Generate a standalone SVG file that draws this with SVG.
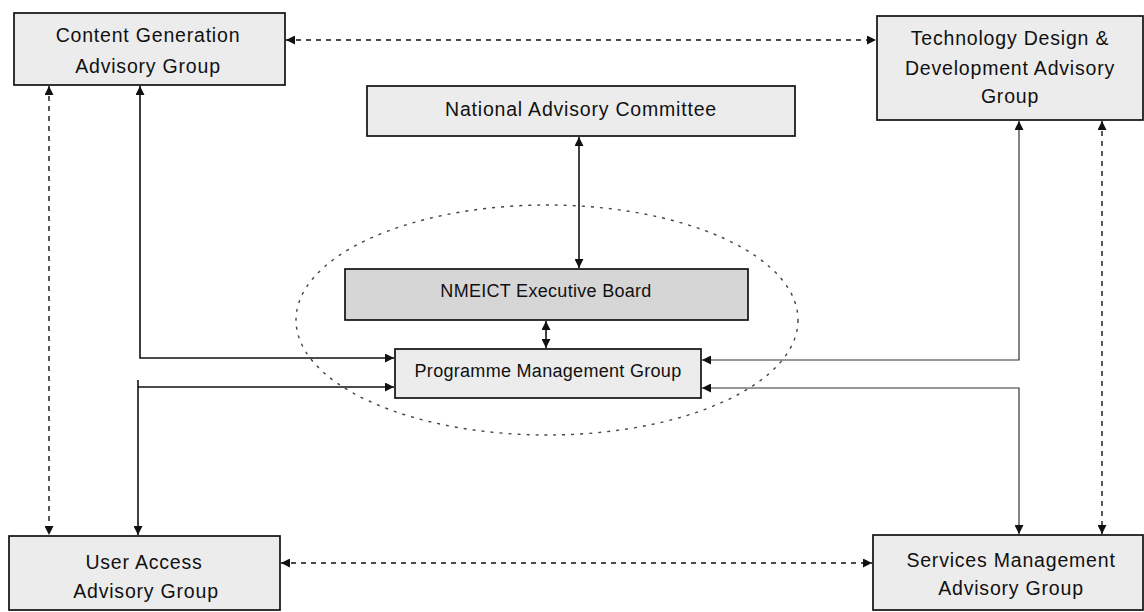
<svg xmlns="http://www.w3.org/2000/svg" width="1144" height="612" viewBox="0 0 1144 612">
  <style>
    .box { fill: #ececec; stroke: #111; stroke-width: 1.7; }
    .board { fill: #d6d6d6; stroke: #111; stroke-width: 1.7; }
    .lbl { font-family: "Liberation Sans", Arial, sans-serif; font-size: 19.5px; letter-spacing: 0.8px; fill: #111; text-anchor: middle; }
    .lbl.core { font-size: 18px; letter-spacing: 0.3px; }
    .solid { fill: none; stroke: #111; stroke-width: 1.6; }
    .thin { fill: none; stroke: #333; stroke-width: 1.2; }
    .dash { fill: none; stroke: #111; stroke-width: 1.4; stroke-dasharray: 5 5; }
    .ring { fill: none; stroke: #444; stroke-width: 1.4; stroke-dasharray: 3 6; }
  </style>
  <defs>
    <marker id="head" viewBox="0 0 10 10" refX="10" refY="5" markerWidth="10" markerHeight="9" markerUnits="userSpaceOnUse" orient="auto-start-reverse">
      <path d="M0,0 L10,5 L0,10 Z" fill="#111"/>
    </marker>
  </defs>

  <rect width="1144" height="612" fill="#ffffff"/>

  <!-- dashed boundary around the executive core -->
  <ellipse id="core-boundary" cx="547" cy="320" rx="251" ry="115" class="ring"/>

  <g id="connectors">
    <!-- advisory group peer links -->
    <line class="dash" x1="286" y1="40" x2="876" y2="40" marker-start="url(#head)" marker-end="url(#head)"/>
    <line class="dash" x1="281" y1="563" x2="872" y2="563" marker-start="url(#head)" marker-end="url(#head)"/>
    <line class="dash" x1="49" y1="86" x2="49" y2="535" marker-start="url(#head)" marker-end="url(#head)"/>
    <line class="dash" x1="1102" y1="121" x2="1102" y2="534" marker-start="url(#head)" marker-end="url(#head)"/>
    <!-- committee to board -->
    <line class="solid" x1="579" y1="137" x2="579" y2="268" marker-start="url(#head)" marker-end="url(#head)"/>
    <!-- board to programme management -->
    <line class="solid" x1="546" y1="321" x2="546" y2="348" marker-start="url(#head)" marker-end="url(#head)"/>
    <!-- content generation to programme management -->
    <path class="solid" d="M140,86 V358 H394" marker-start="url(#head)" marker-end="url(#head)"/>
    <!-- user access to programme management -->
    <line class="solid" x1="138" y1="380" x2="138" y2="535" marker-end="url(#head)"/>
    <line class="solid" x1="138" y1="387" x2="394" y2="387" marker-end="url(#head)"/>
    <!-- technology design to programme management -->
    <path class="thin" d="M1019,121 V360 H702" marker-start="url(#head)" marker-end="url(#head)"/>
    <!-- services management to programme management -->
    <path class="thin" d="M1019,534 V388 H702" marker-start="url(#head)" marker-end="url(#head)"/>
  </g>

  <g id="content-generation">
    <rect class="box" x="14" y="13" width="271" height="72"/>
    <text class="lbl" x="148" y="42">Content Generation</text>
    <text class="lbl" x="148" y="73">Advisory Group</text>
  </g>

  <g id="technology-design">
    <rect class="box" x="877" y="16" width="266" height="104"/>
    <text class="lbl" x="1010" y="45">Technology Design &amp;</text>
    <text class="lbl" x="1010" y="75">Development Advisory</text>
    <text class="lbl" x="1010" y="103">Group</text>
  </g>

  <g id="national-advisory">
    <rect class="box" x="367" y="86" width="428" height="50"/>
    <text class="lbl" x="581" y="116">National Advisory Committee</text>
  </g>

  <g id="executive-board">
    <rect class="board" x="345" y="269" width="403" height="51"/>
    <text class="lbl core" x="546" y="297">NMEICT Executive Board</text>
  </g>

  <g id="programme-management">
    <rect class="box" x="395" y="349" width="306" height="49"/>
    <text class="lbl core" x="548" y="377">Programme Management Group</text>
  </g>

  <g id="user-access">
    <rect class="box" x="9" y="536" width="271" height="74"/>
    <text class="lbl" x="144" y="569">User Access</text>
    <text class="lbl" x="146" y="598">Advisory Group</text>
  </g>

  <g id="services-management">
    <rect class="box" x="873" y="535" width="270" height="75"/>
    <text class="lbl" x="1011" y="567">Services Management</text>
    <text class="lbl" x="1011" y="595">Advisory Group</text>
  </g>
</svg>
